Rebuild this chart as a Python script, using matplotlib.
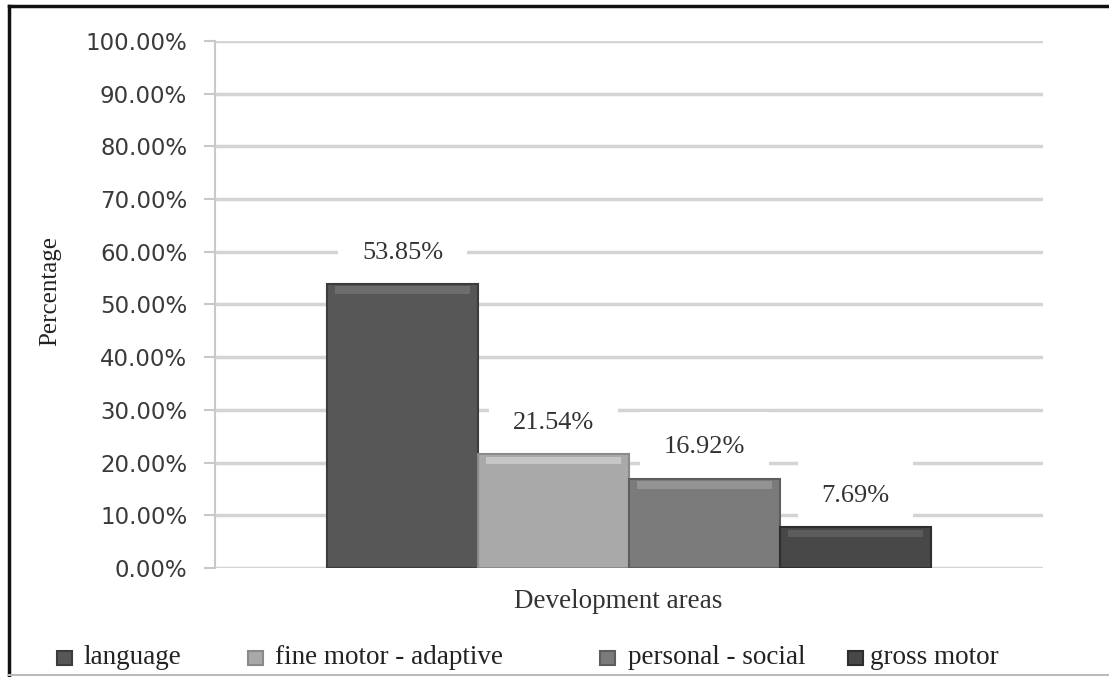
import numpy as np
import matplotlib.pyplot as plt
from matplotlib.patches import Rectangle
from matplotlib.lines import Line2D

# development areas and share of children with delay in each
areas = ["language", "fine motor - adaptive", "personal - social", "gross motor"]
shares = [53.85, 21.54, 16.92, 7.69]
bar_colors = ["#575757", "#a9a9a9", "#7b7b7b", "#484848"]
edge_colors = ["#3c3c3c", "#8a8a8a", "#5e5e5e", "#2e2e2e"]
top_colors = ["#6c6c6c", "#c6c6c6", "#939393", "#5c5c5c"]
yticks = np.arange(0, 101, 10)

W, H = 1109, 677
fig = plt.figure(figsize=(W / 100, H / 100), dpi=100)
ax = fig.add_axes([215 / W, 1 - 568 / H, (1043 - 215) / W, (568 - 41) / H])

serif = "Liberation Serif"
bar_w = 151 / 828
offsets = (np.arange(len(shares)) - (len(shares) - 1) / 2) * bar_w
band = 1.5

for x, val, c, ec, tc in zip(offsets, shares, bar_colors, edge_colors, top_colors):
    ax.bar(x, val, width=bar_w, color=c, edgecolor=ec, linewidth=1.5, zorder=6)
    # lighter bevel along the top edge
    ax.bar(x, band, bottom=val - band - 0.4, width=bar_w * 0.9,
           color=tc, linewidth=0, zorder=7)
    ax.text(x, val + 6.0, f"{val:.2f}%", ha="center", va="center",
            family=serif, fontsize=19, color="#333333", zorder=5,
            bbox=dict(boxstyle="square,pad=0.9", fc="white", ec="none"))

ax.set_xlim(-0.5, 0.5)
ax.set_ylim(0, 100)
ax.set_yticks(yticks)
ax.set_yticklabels([f"{v:.2f}%" for v in yticks], fontsize=16.5, color="#3a3a3a")
ax.set_xticks([])
ax.yaxis.grid(True, color="#d4d4d4", linewidth=2.5, zorder=0)
ax.tick_params(axis="y", length=8, width=1.5, color="#c8c8c8", pad=12)
for side in ["top", "right", "bottom"]:
    ax.spines[side].set_visible(False)
ax.spines["left"].set_color("#c8c8c8")
ax.spines["left"].set_linewidth(1.5)
ax.set_axisbelow(True)

fig.text(50 / W, 1 - 291 / H, "Percentage", rotation=90, ha="center", va="center",
         family=serif, fontsize=18, color="#222222")
fig.text(618 / W, 1 - 602 / H, "Development areas", ha="center", va="center",
         family=serif, fontsize=19.5, color="#333333")

# legend row along the bottom
marker_x = [57, 248, 600, 848]
text_x = [83, 275, 628, 870]
for mx, tx, name, c, ec in zip(marker_x, text_x, areas, bar_colors, edge_colors):
    fig.patches.append(Rectangle((mx / W, 1 - 665 / H), 15 / W, 14 / H,
                                 transform=fig.transFigure, fc=c, ec=ec, lw=1.5))
    fig.text(tx / W, 1 - 657 / H, name, ha="left", va="center",
             family=serif, fontsize=19.5, color="#222222")

# frame lines
fig.add_artist(Line2D([9 / W, 9 / W], [0, 1 - 6 / H], transform=fig.transFigure,
                      color="#111111", linewidth=2.5))
fig.add_artist(Line2D([9 / W, 1], [1 - 6 / H, 1 - 6 / H], transform=fig.transFigure,
                      color="#111111", linewidth=2.5))
fig.add_artist(Line2D([9 / W, 1], [1 - 675 / H, 1 - 675 / H], transform=fig.transFigure,
                      color="#bbbbbb", linewidth=1.5))

fig.savefig("out.png", dpi=100, facecolor="white")
